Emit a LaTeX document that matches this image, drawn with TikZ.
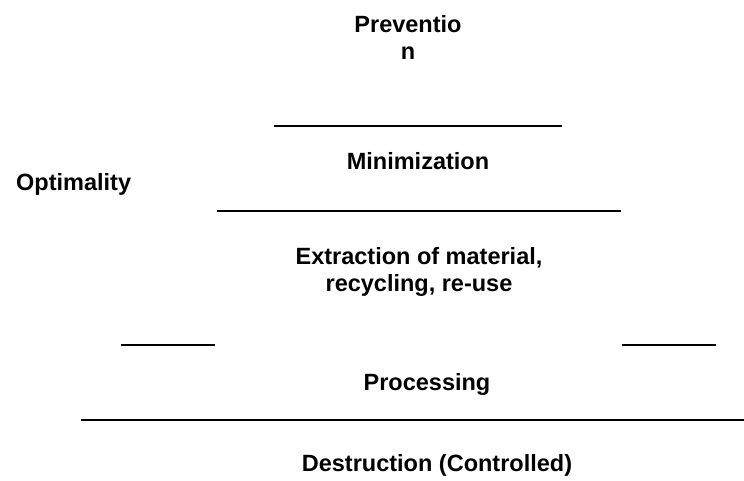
\documentclass[tikz,border=0pt]{standalone}
\usepackage{fontspec}
\setmainfont{Liberation Sans}
\begin{document}
\begin{tikzpicture}[x=1pt,y=-1pt,
  lbl/.style={font=\fontsize{23.5}{27}\selectfont\bfseries, inner sep=0pt, align=center},
  sep/.style={line width=2pt, black}]
\useasboundingbox (0,0) rectangle (744,480);
\node[lbl, anchor=base] (prev) at (408,59) {Preventio\\n};
\draw[sep] (274,126) -- (562,126);
\node[lbl, anchor=base] (mini) at (418,169) {Minimization};
\node[lbl, anchor=base west] (opt) at (16,190) {Optimality};
\draw[sep] (217,211) -- (621,211);
\node[lbl, anchor=base] (extr) at (419,291) {Extraction of material,\\recycling, re-use};
\draw[sep] (121,345) -- (215,345);
\draw[sep] (622,345) -- (716,345);
\node[lbl, anchor=base] (proc) at (427,390) {Processing};
\draw[sep] (81,420) -- (744,420);
\node[lbl, anchor=base] (dest) at (437,471) {Destruction (Controlled)};
\end{tikzpicture}
\end{document}
